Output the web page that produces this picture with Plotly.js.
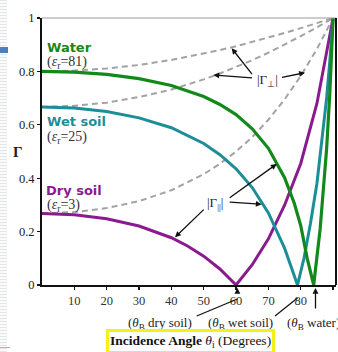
<!DOCTYPE html>
<html><head><meta charset="utf-8">
<script src="https://cdn.plot.ly/plotly-3.0.1.min.js"></script>
<style>
html,body{margin:0;padding:0;background:#fff;}
#wrap{position:relative;width:338px;height:352px;overflow:hidden;}
#chart{position:absolute;left:0;top:0;width:338px;height:352px;}
#strip{position:absolute;left:0;top:0;width:7px;height:352px;background:repeating-linear-gradient(180deg,#e4e6ea 0px,#e4e6ea 1px,#fbfbfc 1px,#fbfbfc 3px);z-index:2;}
#blk{position:absolute;left:0;top:47px;width:8px;height:6px;background:#4f7fb8;z-index:3;}
#bl{position:absolute;left:0;top:347px;width:10px;height:1px;background:#9fb4d4;z-index:3;}
</style></head>
<body><div id="wrap"><div id="chart"></div><div id="strip"></div><div id="blk"></div><div id="bl"></div></div>
<script>
// ---- data ----
const perpAngles = [0,10,20,30,40,50,55,60,65,70,75,80,85,90];
const waterPerp  = [0.800,0.803,0.811,0.824,0.843,0.866,0.880,0.894,0.910,0.926,0.944,0.962,0.981,1.0];
const wetPerp    = [0.667,0.671,0.683,0.704,0.732,0.770,0.792,0.816,0.842,0.870,0.900,0.932,0.965,1.0];
const dryPerp    = [0.268,0.273,0.288,0.314,0.355,0.415,0.454,0.500,0.554,0.619,0.695,0.783,0.884,1.0];

const waterParAngles = [0,10,20,30,40,50,55,60,65,70,75,78,80,82,84,86,88,89,90];
const waterPar       = [0.800,0.797,0.789,0.773,0.747,0.706,0.676,0.638,0.585,0.512,0.402,0.306,0.222,0.10,0.0,0.21,0.51,0.72,1.0];
const wetParAngles   = [0,10,20,30,40,50,55,60,65,70,75,77,79,81,83,85,87,88,89,90];
const wetPar         = [0.667,0.663,0.650,0.626,0.589,0.530,0.488,0.435,0.365,0.270,0.138,0.068,0.0,0.10,0.23,0.38,0.58,0.70,0.84,1.0];
const dryParAngles   = [0,10,20,30,40,45,50,55,60,65,70,75,80,85,90];
const dryPar         = [0.268,0.263,0.248,0.221,0.177,0.146,0.108,0.060,0.0,0.076,0.173,0.299,0.455,0.68,1.0];

const xTickVals = [10,20,30,40,50,60,70,80,90];
const yTickVals = [0,0.2,0.4,0.6,0.8,1];
const yTickText = ['0','0.2','0.4','0.6','0.8','1'];

// ---- layout helpers ----
const W=338,H=352,M={l:42,r:2,t:18,b:67};
const XR=[0,90.9],YR=[0,1];
const pw=W-M.l-M.r, ph=H-M.t-M.b;
const px=x=>(x-M.l)/pw, py=y=>(H-M.b-y)/ph;
const dx=x=>XR[0]+px(x)*(XR[1]-XR[0]), dy=y=>YR[0]+py(y)*(YR[1]-YR[0]);

const cWater='#13891b', cWet='#1c8e98', cDry='#8a1b8e', cDash='#a3a3a3';
const serif='"Liberation Serif", "Times New Roman", serif';
const sans='"DejaVu Sans", sans-serif';

const traces=[
 {x:perpAngles,y:dryPerp,mode:'lines',line:{color:cDash,width:2,dash:'6px,4px'},hoverinfo:'skip'},
 {x:perpAngles,y:wetPerp,mode:'lines',line:{color:cDash,width:2,dash:'6px,4px'},hoverinfo:'skip'},
 {x:perpAngles,y:waterPerp,mode:'lines',line:{color:cDash,width:2,dash:'6px,4px'},hoverinfo:'skip'},
 {x:dryParAngles,y:dryPar,mode:'lines',line:{color:cDry,width:3},hoverinfo:'skip'},
 {x:wetParAngles,y:wetPar,mode:'lines',line:{color:cWet,width:3},hoverinfo:'skip'},
 {x:waterParAngles,y:waterPar,mode:'lines',line:{color:cWater,width:3.2},hoverinfo:'skip'}
];

function txt(x,y,text,font,xanchor){return {xref:'paper',yref:'paper',x:px(x),y:py(y),text:text,showarrow:false,xanchor:xanchor||'left',yanchor:'middle',font:font};}
function arr(tx,ty,hx,hy){return {xref:'x',yref:'y',axref:'x',ayref:'y',x:dx(hx),y:dy(hy),ax:dx(tx),ay:dy(ty),text:' ',showarrow:true,arrowhead:2,arrowsize:0.9,arrowwidth:1.3,arrowcolor:'#111',standoff:0,startstandoff:0};}
function parr(tx,ty,hx,hy){return {xref:'paper',yref:'paper',x:px(hx),y:py(hy),ax:tx-hx,ay:ty-hy,axref:'pixel',ayref:'pixel',text:' ',showarrow:true,arrowhead:2,arrowsize:0.9,arrowwidth:1.3,arrowcolor:'#111',standoff:0,startstandoff:0};}

const fSerif={family:serif,size:13,color:'#222'};
const fEps={family:serif,size:14,color:'#333'};
const annotations=[
 txt(45,47,'<b>Water</b>',{family:sans,size:13,color:cWater}),
 txt(45,63,'(<i>ε</i><sub>r</sub>=81)',fEps),
 txt(45,122,'<b>Wet soil</b>',{family:sans,size:13,color:cWet}),
 txt(45,137,'(<i>ε</i><sub>r</sub>=25)',fEps),
 txt(44,190,'<b>Dry soil</b>',{family:sans,size:13,color:cDry}),
 txt(45,206,'(<i>ε</i><sub>r</sub>=3)',fEps),
 txt(267,80,'|Γ<sub>⊥</sub>|',fSerif,'center'),
 txt(215,203,'|Γ<sub>||</sub>|',fSerif,'center'),
 arr(255,78,231.7,48.3), arr(255,78,213.3,75), arr(279,78,305,72.7),
 arr(206.7,206.7,175,237.3), arr(226.7,200,276.7,164), arr(226.7,202,261.7,204.3),
 txt(18,152,'<b>Γ</b>',{family:serif,size:15,color:'#222'},'center'),
 txt(160,323,'(<i>θ</i><sub>B</sub> dry soil)',fSerif,'center'),
 txt(240,323,'(<i>θ</i><sub>B</sub> wet soil)',fSerif,'center'),
 txt(285,323,'(<i>θ</i><sub>B</sub> water)',fSerif,'left'),
 parr(237.4,299,237.4,288), parr(297.5,298,297.5,288), parr(315.5,317,315.5,288),
 {xref:'paper',yref:'paper',x:px(190),y:py(341.5),text:'<b>Incidence Angle</b> <i>θ</i><sub>i</sub> (Degrees)',showarrow:false,xanchor:'center',yanchor:'middle',font:{family:serif,size:13.5,color:'#111'},bgcolor:'#fff',bordercolor:'#f5ef1a',borderwidth:3,borderpad:1}
];

const shapes=[
 {type:'line',xref:'paper',yref:'paper',x0:0,x1:1,y0:1,y1:1,line:{color:'#9a9a9a',width:1}},
 {type:'line',xref:'paper',yref:'paper',x0:1,x1:1,y0:0,y1:1,line:{color:'#111',width:2}},
 {type:'line',xref:'paper',yref:'paper',x0:px(196.7),y0:py(316),x1:px(237.4),y1:py(299),line:{color:'#111',width:1.3}},
 {type:'line',xref:'paper',yref:'paper',x0:px(275),y0:py(316),x1:px(297.5),y1:py(298),line:{color:'#111',width:1.3}}
];

const layout={
 width:W,height:H,margin:M,paper_bgcolor:'#fff',plot_bgcolor:'#fff',showlegend:false,
 font:{family:serif},
 xaxis:{range:XR,tickvals:xTickVals,ticks:'outside',ticklen:3,tickwidth:1.2,tickcolor:'#111',showgrid:false,zeroline:false,
        showline:true,linecolor:'#111',linewidth:2,tickfont:{family:serif,size:12.5,color:'#333'}},
 yaxis:{range:YR,tickvals:yTickVals,ticktext:yTickText,ticks:'outside',ticklen:3,tickwidth:1.2,tickcolor:'#111',showgrid:false,zeroline:false,
        showline:true,linecolor:'#111',linewidth:2,tickfont:{family:serif,size:12.5,color:'#222'}},
 annotations:annotations,shapes:shapes
};
Plotly.newPlot('chart',traces,layout,{staticPlot:true,displayModeBar:false});
</script></body></html>
